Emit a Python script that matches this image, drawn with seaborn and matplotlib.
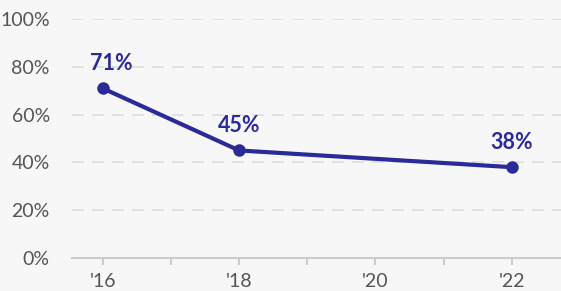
import pandas as pd
import matplotlib.pyplot as plt
import seaborn as sns

# Chart data
years = [2016, 2018, 2022]
shares = [71, 45, 38]
labels = ["71%", "45%", "38%"]
tick_years = [2016, 2018, 2020, 2022]
tick_labels = ["'16", "'18", "'20", "'22"]

df = pd.DataFrame({"year": years, "share": shares})

bg = "#f7f7f7"
line_color = "#2b2a99"

sns.set_theme(style="white")
plt.rcParams["font.family"] = ["Lato", "DejaVu Sans"]

fig = plt.figure(figsize=(5.61, 2.91), dpi=100, facecolor=bg)
ax = fig.add_axes([72 / 561, 1 - 258 / 291, 489 / 561, 239 / 291])
ax.set_facecolor(bg)

sns.lineplot(data=df, x="year", y="share", ax=ax, color=line_color,
             linewidth=3, marker="o", markersize=9, markeredgewidth=0)

# Value labels above points
for x, y, txt, dx in zip(years, shares, labels, [6, 0, 0]):
    ax.annotate(txt, (x, y), xytext=(dx, 18), textcoords="offset points",
                ha="center", va="center", fontsize=15.5, fontweight="bold",
                color=line_color)

ax.set_xlim(2015.55, 2022.72)
ax.set_ylim(0, 100)
ax.set_yticks([0, 20, 40, 60, 80, 100])
ax.set_yticklabels([f"{v}%" for v in [0, 20, 40, 60, 80, 100]])
ax.set_xticks(tick_years)
ax.set_xticklabels(tick_labels)
ax.set_xticks([2017, 2019, 2021], minor=True)

for v in [20, 40, 60, 80, 100]:
    ax.axhline(v, color="#dddddd", linewidth=1.2, dashes=(7, 5), zorder=0)

for side in ["top", "right", "left"]:
    ax.spines[side].set_visible(False)
ax.spines["bottom"].set_color("#cccccc")
ax.spines["bottom"].set_linewidth(1.5)

ax.tick_params(axis="x", which="both", bottom=True, length=5, width=1.5,
               color="#cccccc", labelsize=14, labelcolor="#555555", pad=6)
ax.tick_params(axis="y", left=False, labelsize=14, labelcolor="#555555", pad=10)
ax.set_xlabel("")
ax.set_ylabel("")

fig.savefig("out.png", dpi=100, facecolor=bg)
